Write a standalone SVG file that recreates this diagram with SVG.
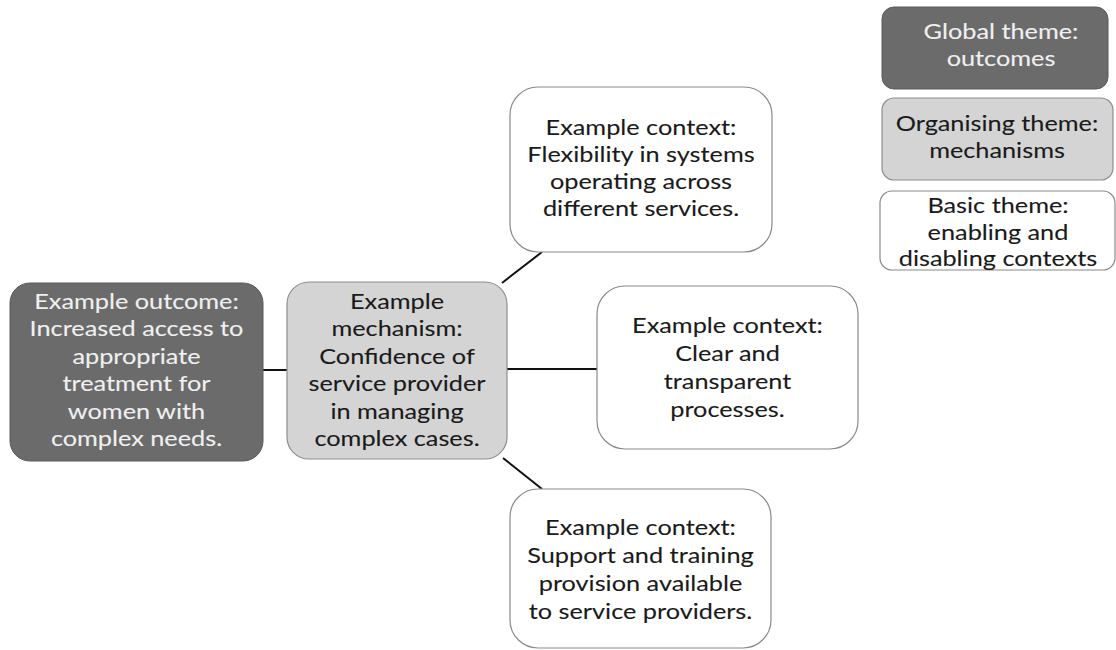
<svg xmlns="http://www.w3.org/2000/svg" width="1116" height="650" viewBox="0 0 1116 650">
  <style>
    .lbl { font-family: Lato, "Liberation Sans", sans-serif; font-size: 22px; text-anchor: middle; fill: #1a1a1a; stroke: #1a1a1a; stroke-width: 0.1; }
    .lbl.light { fill: #f0f0f0; stroke: #f0f0f0; }
    .global { fill: #6b6b6b; stroke: #5a5a5a; stroke-width: 1; }
    .organising { fill: #d4d4d4; stroke: #8e8e8e; stroke-width: 1.2; }
    .basic { fill: #ffffff; stroke: #8a8a8a; stroke-width: 1.2; }
    .link { stroke: #111111; stroke-width: 2; fill: none; }
  </style>
  <rect width="1116" height="650" fill="#ffffff"/>

  <!-- connectors between themes -->
  <g id="connectors">
    <line class="link" x1="263" y1="370" x2="287" y2="370"/>
    <line class="link" x1="502" y1="283" x2="542" y2="252"/>
    <line class="link" x1="507" y1="369" x2="597" y2="369"/>
    <line class="link" x1="503" y1="458" x2="542" y2="489"/>
  </g>

  <!-- global theme: outcome -->
  <g id="outcome">
    <rect class="global" x="10" y="283" width="253" height="178" rx="20"/>
    <g transform="translate(136.5,0) scale(1.15,1)">
      <text class="lbl light" x="0" y="309">Example outcome:</text>
      <text class="lbl light" x="0" y="336.5">Increased access to</text>
      <text class="lbl light" x="0" y="364">appropriate</text>
      <text class="lbl light" x="0" y="391.5">treatment for</text>
      <text class="lbl light" x="0" y="419">women with</text>
      <text class="lbl light" x="0" y="446.5">complex needs.</text>
    </g>
  </g>

  <!-- organising theme: mechanism -->
  <g id="mechanism">
    <rect class="organising" x="287" y="282" width="220" height="177" rx="22"/>
    <g transform="translate(397,0) scale(1.15,1)">
      <text class="lbl" x="0" y="309">Example</text>
      <text class="lbl" x="0" y="336.5">mechanism:</text>
      <text class="lbl" x="0" y="364">Confidence of</text>
      <text class="lbl" x="0" y="391.5">service provider</text>
      <text class="lbl" x="0" y="419">in managing</text>
      <text class="lbl" x="0" y="446.5">complex cases.</text>
    </g>
  </g>

  <!-- basic theme: context 1 -->
  <g id="context-flexibility">
    <rect class="basic" x="510" y="87" width="262" height="165" rx="28"/>
    <g transform="translate(641,0) scale(1.15,1)">
      <text class="lbl" x="0" y="135">Example context:</text>
      <text class="lbl" x="0" y="162">Flexibility in systems</text>
      <text class="lbl" x="0" y="189">operating across</text>
      <text class="lbl" x="0" y="216">different services.</text>
    </g>
  </g>

  <!-- basic theme: context 2 -->
  <g id="context-processes">
    <rect class="basic" x="597" y="286" width="261" height="163" rx="28"/>
    <g transform="translate(727.5,0) scale(1.15,1)">
      <text class="lbl" x="0" y="333">Example context:</text>
      <text class="lbl" x="0" y="361">Clear and</text>
      <text class="lbl" x="0" y="389">transparent</text>
      <text class="lbl" x="0" y="417">processes.</text>
    </g>
  </g>

  <!-- basic theme: context 3 -->
  <g id="context-support">
    <rect class="basic" x="510" y="489" width="261" height="159" rx="28"/>
    <g transform="translate(640.5,0) scale(1.15,1)">
      <text class="lbl" x="0" y="535">Example context:</text>
      <text class="lbl" x="0" y="563">Support and training</text>
      <text class="lbl" x="0" y="591">provision available</text>
      <text class="lbl" x="0" y="619">to service providers.</text>
    </g>
  </g>

  <!-- key -->
  <g id="key-global">
    <rect class="global" x="882" y="7" width="226" height="82" rx="12"/>
    <g transform="translate(1001,0) scale(1.15,1)">
      <text class="lbl light" x="0" y="39">Global theme:</text>
      <text class="lbl light" x="0" y="66">outcomes</text>
    </g>
  </g>
  <g id="key-organising">
    <rect class="organising" x="882" y="98" width="231" height="82" rx="12"/>
    <g transform="translate(997,0) scale(1.15,1)">
      <text class="lbl" x="0" y="131">Organising theme:</text>
      <text class="lbl" x="0" y="158">mechanisms</text>
    </g>
  </g>
  <g id="key-basic">
    <rect class="basic" x="880" y="191" width="235" height="79" rx="12"/>
    <g transform="translate(998,0) scale(1.15,1)">
      <text class="lbl" x="0" y="213">Basic theme:</text>
      <text class="lbl" x="0" y="240">enabling and</text>
      <text class="lbl" x="0" y="266">disabling contexts</text>
    </g>
  </g>
</svg>
